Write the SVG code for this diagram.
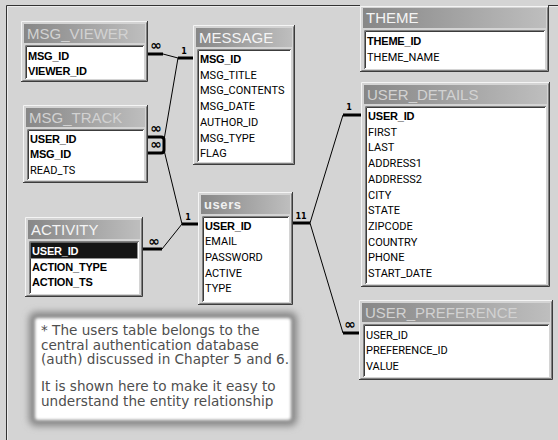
<svg xmlns="http://www.w3.org/2000/svg" width="558" height="440" viewBox="0 0 558 440">
  <defs>
    <linearGradient id="titleGrad" x1="0" y1="0" x2="1" y2="0">
      <stop offset="0" stop-color="#878787"/>
      <stop offset="1" stop-color="#bebebe"/>
    </linearGradient>
    <filter id="glow" x="-10%" y="-15%" width="120%" height="130%">
      <feGaussianBlur stdDeviation="3.5"/>
    </filter>
    <filter id="softEdge" x="-5%" y="-8%" width="110%" height="116%">
      <feGaussianBlur stdDeviation="1.4"/>
    </filter>
    <style>
      .bg { fill: #d4d4d4; }
      .box { fill: #d4d4d4; }
      .hi { fill: none; stroke: #f4f4f4; stroke-width: 1; }
      .lo { fill: none; stroke: #3c3c3c; stroke-width: 1; }
      .mid { fill: none; stroke: #808080; stroke-width: 1; }
      .bar { fill: url(#titleGrad); }
      .list { fill: #ffffff; }
      .title { font-family: "Liberation Sans", Arial, sans-serif; font-size: 15px; fill: #d2d2d2; }
      .title.bright { fill: #f4f4f4; }
      .users-title { font-family: "Liberation Sans", Arial, sans-serif; font-size: 13px; font-weight: bold; letter-spacing: 0.6px; fill: #f0f0f0; }
      .f { font-family: Roboto, "Liberation Sans", sans-serif; font-size: 11px; fill: #000; }
      .pk { font-family: "Liberation Sans", Arial, sans-serif; font-size: 11px; font-weight: bold; fill: #000; letter-spacing: -0.2px; }
      .sel { fill: #141414; stroke: #9a9a9a; stroke-width: 1; stroke-dasharray: 1 1; }
      .pk.inv { fill: #ffffff; }
      .thin { fill: none; stroke: #000; stroke-width: 1; }
      .stub { fill: none; stroke: #000; stroke-width: 3; }
      .many { font-family: "DejaVu Sans", sans-serif; font-size: 14px; font-weight: bold; fill: #000; text-anchor: middle; }
      .one { font-family: "DejaVu Sans", sans-serif; font-size: 8px; font-weight: bold; fill: #000; text-anchor: middle; }
      .note { font-family: "DejaVu Sans", Verdana, sans-serif; font-size: 13.6px; fill: #4e4e4e; }
    </style>
  </defs>

  <!-- workspace background and window edge -->
  <rect class="bg" x="0" y="0" width="558" height="440"/>
  <path d="M6.5 440 V5.5 H558" fill="none" stroke="#333" stroke-width="1"/>
  <path d="M7.5 440 V6.5 H558" fill="none" stroke="#ececec" stroke-width="1"/>

  <!-- relationship lines -->
  <g id="connectors">
    <!-- MSG_VIEWER.MSG_ID to MESSAGE.MSG_ID -->
    <path class="stub" d="M148 54 H163"/>
    <path class="thin" d="M163 54 L178 58"/>
    <path class="stub" d="M178 58 H193"/>
    <text class="many" x="156" y="50">∞</text>
    <text class="one" x="184" y="54">1</text>

    <!-- MSG_TRACK to MESSAGE and users -->
    <path class="thin" d="M178 58 L164 140"/>
    <path class="stub" d="M148 137 H161 Q164 137 164 140 V150 Q164 153 161 153 H148"/>
    <text class="many" x="156" y="133">∞</text>
    <text class="many" x="156" y="149">∞</text>
    <path class="thin" d="M164 150 L182 224"/>
    <path class="stub" d="M182 224 H198"/>
    <text class="one" x="188" y="220">1</text>

    <!-- ACTIVITY.USER_ID to users.USER_ID -->
    <path class="stub" d="M143 249 H162"/>
    <path class="thin" d="M162 249 L182 224"/>
    <text class="many" x="154" y="246">∞</text>

    <!-- users.USER_ID to USER_DETAILS and USER_PREFERENCE -->
    <path class="stub" d="M293 223 H310"/>
    <text class="one" x="301" y="219">11</text>
    <path class="thin" d="M310 223 L343 115"/>
    <path class="stub" d="M343 115 H361"/>
    <text class="one" x="349" y="110">1</text>
    <path class="thin" d="M310 223 L343 333"/>
    <path class="stub" d="M343 333 H359"/>
    <text class="many" x="350" y="329">∞</text>
  </g>

  <!-- MSG_VIEWER -->
  <g id="msg_viewer" transform="translate(21,21)">
    <rect class="box" width="127" height="61"/>
    <path class="hi" d="M0.5 60 V0.5 H126"/>
    <path class="lo" d="M0 60.5 H126.5 V0"/>
    <path class="mid" d="M1.5 59.5 H125.5 V1.5"/>
    <rect class="bar" x="3" y="3" width="121" height="19"/>
    <rect class="list" x="4" y="24" width="119" height="34"/>
    <path class="mid" d="M4.5 58 V24.5 H123"/>
    <path class="lo" d="M5.5 57 V25.5 H122"/>
    <text class="title" x="6" y="17.5">MSG_VIEWER</text>
    <text class="pk" x="7" y="38.5">MSG_ID</text>
    <text class="pk" x="7" y="54.2">VIEWER_ID</text>
  </g>

  <!-- MESSAGE -->
  <g id="message" transform="translate(193,25)">
    <rect class="box" width="102" height="140"/>
    <path class="hi" d="M0.5 139 V0.5 H101"/>
    <path class="lo" d="M0 139.5 H101.5 V0"/>
    <path class="mid" d="M1.5 138.5 H100.5 V1.5"/>
    <rect class="bar" x="3" y="3" width="96" height="19"/>
    <rect class="list" x="4" y="24" width="94" height="113"/>
    <path class="mid" d="M4.5 137 V24.5 H98"/>
    <path class="lo" d="M5.5 136 V25.5 H97"/>
    <text class="title bright" x="6" y="17.5">MESSAGE</text>
    <text class="pk" x="7" y="38">MSG_ID</text>
    <text class="f" x="7" y="53.7">MSG_TITLE</text>
    <text class="f" x="7" y="69.4">MSG_CONTENTS</text>
    <text class="f" x="7" y="85.1">MSG_DATE</text>
    <text class="f" x="7" y="100.8">AUTHOR_ID</text>
    <text class="f" x="7" y="116.5">MSG_TYPE</text>
    <text class="f" x="7" y="132.2">FLAG</text>
  </g>

  <!-- MSG_TRACK -->
  <g id="msg_track" transform="translate(23,105)">
    <rect class="box" width="125" height="78"/>
    <path class="hi" d="M0.5 77 V0.5 H124"/>
    <path class="lo" d="M0 77.5 H124.5 V0"/>
    <path class="mid" d="M1.5 76.5 H123.5 V1.5"/>
    <rect class="bar" x="3" y="3" width="119" height="19"/>
    <rect class="list" x="4" y="24" width="117" height="51"/>
    <path class="mid" d="M4.5 75 V24.5 H121"/>
    <path class="lo" d="M5.5 74 V25.5 H120"/>
    <text class="title" x="6" y="17.5">MSG_TRACK</text>
    <text class="pk" x="7" y="37.5">USER_ID</text>
    <text class="pk" x="7" y="53.2">MSG_ID</text>
    <text class="f" x="7" y="68.9">READ_TS</text>
  </g>

  <!-- ACTIVITY -->
  <g id="activity" transform="translate(25,217)">
    <rect class="box" width="118" height="80"/>
    <path class="hi" d="M0.5 79 V0.5 H117"/>
    <path class="lo" d="M0 79.5 H117.5 V0"/>
    <path class="mid" d="M1.5 78.5 H116.5 V1.5"/>
    <rect class="bar" x="3" y="3" width="112" height="19"/>
    <rect class="list" x="4" y="24" width="110" height="53"/>
    <path class="mid" d="M4.5 77 V24.5 H114"/>
    <path class="lo" d="M5.5 76 V25.5 H113"/>
    <text class="title bright" x="6" y="17.5">ACTIVITY</text>
    <rect class="sel" x="5.5" y="25.5" width="107" height="16"/>
    <text class="pk inv" x="7" y="38">USER_ID</text>
    <text class="pk" x="7" y="53.7">ACTION_TYPE</text>
    <text class="pk" x="7" y="69.4">ACTION_TS</text>
  </g>

  <!-- users -->
  <g id="users" transform="translate(198,192)">
    <rect class="box" width="95" height="113"/>
    <path class="hi" d="M0.5 112 V0.5 H94"/>
    <path class="lo" d="M0 112.5 H94.5 V0"/>
    <path class="mid" d="M1.5 111.5 H93.5 V1.5"/>
    <rect class="bar" x="3" y="3" width="89" height="19"/>
    <rect class="list" x="4" y="24" width="87" height="86"/>
    <path class="mid" d="M4.5 110 V24.5 H91"/>
    <path class="lo" d="M5.5 109 V25.5 H90"/>
    <text class="users-title" x="6" y="17">users</text>
    <text class="pk" x="7" y="37.5">USER_ID</text>
    <text class="f" x="7" y="53.2">EMAIL</text>
    <text class="f" x="7" y="68.9">PASSWORD</text>
    <text class="f" x="7" y="84.6">ACTIVE</text>
    <text class="f" x="7" y="100.3">TYPE</text>
  </g>

  <!-- THEME -->
  <g id="theme" transform="translate(360,5)">
    <rect class="box" width="189" height="67"/>
    <path class="hi" d="M0.5 66 V1.5 H188"/>
    <path class="lo" d="M0 66.5 H188.5 V0"/>
    <path class="mid" d="M1.5 65.5 H187.5 V2.5"/>
    <rect class="bar" x="3" y="3" width="183" height="20"/>
    <rect class="list" x="4" y="25" width="181" height="39"/>
    <path class="mid" d="M4.5 64 V25.5 H185"/>
    <path class="lo" d="M5.5 63 V26.5 H184"/>
    <text class="title bright" x="6" y="18">THEME</text>
    <text class="pk" x="7" y="40">THEME_ID</text>
    <text class="f" x="7" y="55.7">THEME_NAME</text>
  </g>

  <!-- USER_DETAILS -->
  <g id="user_details" transform="translate(361,82)">
    <rect class="box" width="189" height="205"/>
    <path class="hi" d="M0.5 204 V0.5 H188"/>
    <path class="lo" d="M0 204.5 H188.5 V0"/>
    <path class="mid" d="M1.5 203.5 H187.5 V1.5"/>
    <rect class="bar" x="3" y="3" width="183" height="19"/>
    <rect class="list" x="4" y="24" width="181" height="178"/>
    <path class="mid" d="M4.5 202 V24.5 H185"/>
    <path class="lo" d="M5.5 201 V25.5 H184"/>
    <text class="title" x="6" y="17.5">USER_DETAILS</text>
    <text class="pk" x="7" y="38">USER_ID</text>
    <text class="f" x="7" y="53.7">FIRST</text>
    <text class="f" x="7" y="69.4">LAST</text>
    <text class="f" x="7" y="85.1">ADDRESS1</text>
    <text class="f" x="7" y="100.8">ADDRESS2</text>
    <text class="f" x="7" y="116.5">CITY</text>
    <text class="f" x="7" y="132.2">STATE</text>
    <text class="f" x="7" y="147.9">ZIPCODE</text>
    <text class="f" x="7" y="163.6">COUNTRY</text>
    <text class="f" x="7" y="179.3">PHONE</text>
    <text class="f" x="7" y="195">START_DATE</text>
  </g>

  <!-- USER_PREFERENCE -->
  <g id="user_preference" transform="translate(359,300)">
    <rect class="box" width="194" height="80"/>
    <path class="hi" d="M0.5 79 V0.5 H193"/>
    <path class="lo" d="M0 79.5 H193.5 V0"/>
    <path class="mid" d="M1.5 78.5 H192.5 V1.5"/>
    <rect class="bar" x="3" y="3" width="188" height="19"/>
    <rect class="list" x="4" y="24" width="186" height="53"/>
    <path class="mid" d="M4.5 77 V24.5 H190"/>
    <path class="lo" d="M5.5 76 V25.5 H189"/>
    <text class="title" x="6" y="17.5">USER_PREFERENCE</text>
    <text class="f" x="7" y="38.5">USER_ID</text>
    <text class="f" x="7" y="54.2">PREFERENCE_ID</text>
    <text class="f" x="7" y="69.9">VALUE</text>
  </g>

  <!-- annotation -->
  <g id="note">
    <rect x="29" y="312" width="268" height="114" rx="7" fill="#858585" filter="url(#glow)"/>
    <rect x="35" y="318" width="256" height="102" rx="3" fill="#ffffff" filter="url(#softEdge)"/>
    <text class="note" x="41" y="335">* The users table belongs to the</text>
    <text class="note" x="41" y="349.5">central authentication database</text>
    <text class="note" x="41" y="364">(auth) discussed in Chapter 5 and 6.</text>
    <text class="note" x="41" y="391">It is shown here to make it easy to</text>
    <text class="note" x="41" y="405.5">understand the entity relationship</text>
  </g>
</svg>
